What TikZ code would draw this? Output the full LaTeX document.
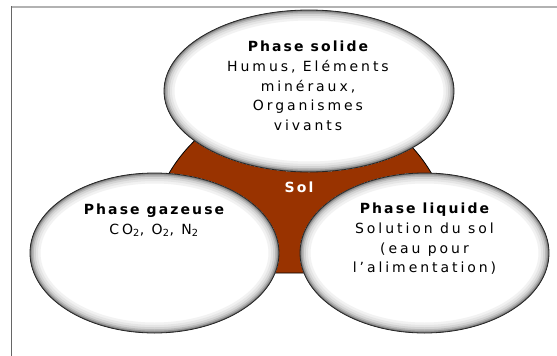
\documentclass[tikz,border=0pt]{standalone}
\usepackage{fontspec}
\setmainfont{DejaVu Sans}[LetterSpace=21]
\newfontfamily\titlefont{DejaVu Sans}[BoldFont={DejaVu Sans Bold},LetterSpace=15]
\usetikzlibrary{shapes.geometric}
\definecolor{solbrown}{RGB}{153,51,0}
\tikzset{
  phase/.style 2 args={ellipse, inner sep=0pt, fill=white, draw=black!85, line width=0.8pt,
    minimum width=2*#1 pt, minimum height=2*#2 pt,
    path picture={
      \foreach \w/\c in {21/5,16/10,11.5/17,7.5/27,4.5/40,2/56}
        \draw[line width=\w pt, black!\c] (path picture bounding box.center) ellipse[x radius=#1pt, y radius=#2pt];
    }},
  label/.style={align=center, font=\fontsize{14}{19.7}\selectfont, text=black},
}
\begin{document}
\begin{tikzpicture}[x=1pt,y=-1pt]
\useasboundingbox (0,0) rectangle (557,356);
% frame
\draw[line width=2pt, black!30] (11,6.5) -- (557,6.5);
\draw[line width=1pt, black!60] (11.5,6) -- (11.5,356);
% brown sol shape
\fill[solbrown, draw=black, line width=0.8pt] (150,273) arc[start angle=171.3, end angle=368.7, radius=152] -- cycle;
% ellipses
\node[phase={145}{81}] (solide) at (309,91) {};
\node[phase={124.5}{80}] (gaz) at (154.5,253) {};
\node[phase={124.5}{80}] (liq) at (424.5,253) {};
% texts
\node[label] (tsolide) at (308,86) {{\titlefont\bfseries Phase solide}\\Humus, Eléments\\minéraux,\\Organismes\\vivants};
\node[label] (tgaz) at (154,220) {{\titlefont\bfseries Phase gazeuse}\\CO\textsubscript{2}, O\textsubscript{2}, N\textsubscript{2}};
\node[label] (tliq) at (424.5,239) {{\titlefont\bfseries Phase liquide}\\Solution du sol\\(eau pour\\l'alimentation)};
\node[font=\fontsize{14}{16}\titlefont\bfseries, text=white] (sol) at (299,187) {Sol};
\end{tikzpicture}
\end{document}
